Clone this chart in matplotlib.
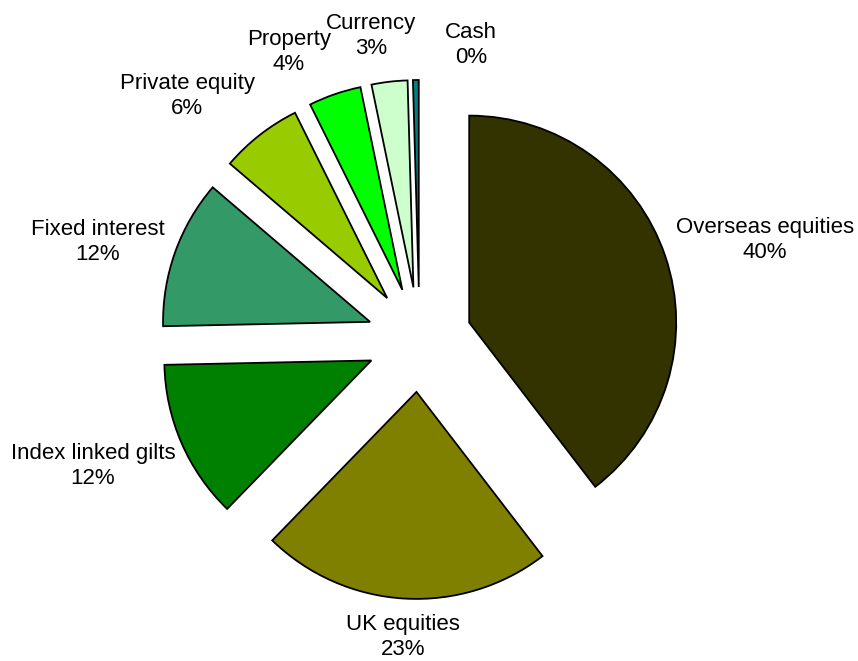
import matplotlib
matplotlib.use("Agg")
import matplotlib.pyplot as plt

plt.rcParams['font.family'] = ['Liberation Sans', 'DejaVu Sans']

# data (shares in %)
categories = ["Overseas equities", "UK equities", "Index linked gilts", "Fixed interest",
              "Private equity", "Property", "Currency", "Cash"]
values = [39.6, 22.7, 12.4, 11.6, 6.4, 4.1, 2.8, 0.45]
colors = ["#333300", "#808000", "#008000", "#339966", "#99CC00", "#00FF00", "#CCFFCC", "#008080"]

# label block centres, in pixel coords (y down) of the original chart
label_pos = [(765, 240), (403, 637), (93, 466), (98, 242),
             (187, 96), (289, 52), (371, 36), (471, 45)]

W, H = 858, 661
fig = plt.figure(figsize=(W / 100, H / 100), dpi=100)
ax = fig.add_axes([0, 0, 1, 1])

ax.pie(values, colors=colors, startangle=90, counterclock=False,
       radius=207, center=(419.5, H - 339.5), explode=[52.5] * len(values),
       wedgeprops=dict(edgecolor='black', linewidth=1.3), frame=True)
ax.set_xlim(0, W)
ax.set_ylim(0, H)
ax.set_aspect('equal')
ax.axis('off')

total = sum(values)
for name, v, (x, y) in zip(categories, values, label_pos):
    ax.text(x, H - y, f"{name}\n{v / total * 100:.0f}%", ha='center', va='center',
            fontsize=16, linespacing=1.25, color='black')

fig.savefig("out.png", dpi=100)
